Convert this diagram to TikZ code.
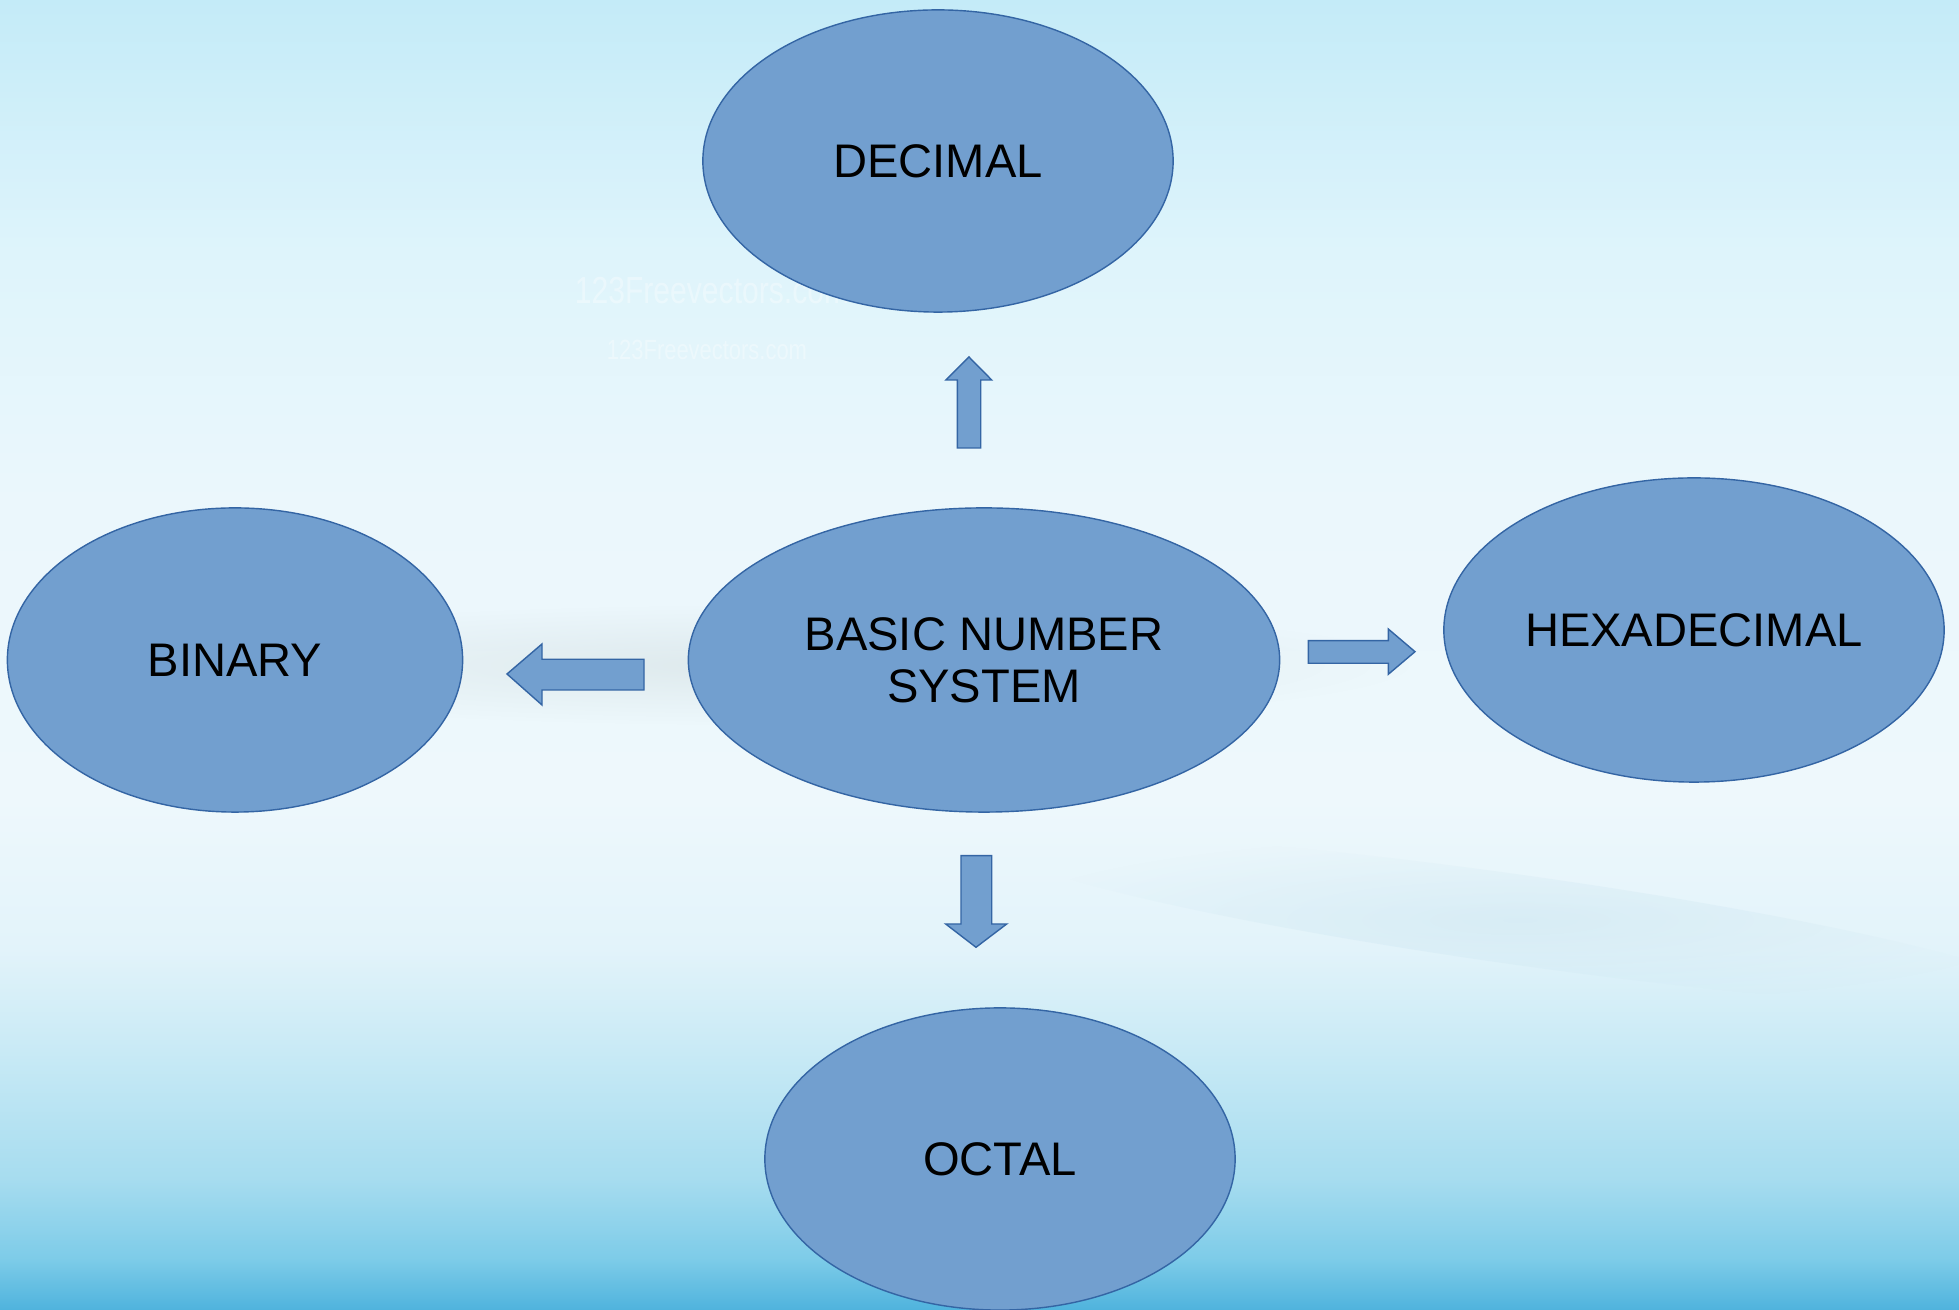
\documentclass[tikz,border=0pt]{standalone}
\usepackage{fontspec}
\setmainfont{Liberation Sans}
\usetikzlibrary{shapes.geometric,fadings}

\definecolor{nodefill}{HTML}{729FCF}
\definecolor{nodeline}{HTML}{3465A4}
\definecolor{bgA}{HTML}{C4EBF8}
\definecolor{bgB}{HTML}{DEF4FB}
\definecolor{bgC}{HTML}{EBF7FC}
\definecolor{bgD}{HTML}{EEF8FC}
\definecolor{bgE}{HTML}{E2F3FA}
\definecolor{bgF}{HTML}{C6E9F5}
\definecolor{bgG}{HTML}{A6DCEF}
\definecolor{bgH}{HTML}{7CCBE8}
\definecolor{bgI}{HTML}{4FB3DD}
\definecolor{haze}{HTML}{CCD8DA}
\definecolor{streak}{HTML}{BBDCEA}

\tikzfading[name=softedge, inner color=transparent!0, outer color=transparent!100]

\begin{document}
\begin{tikzpicture}[x=0.01cm,y=-0.01cm,
  bubble/.style={ellipse, draw=nodeline, fill=nodefill, line width=0.4pt,
    inner sep=0pt, align=center, text=black,
    font=\fontsize{13.4}{14.9}\selectfont},
  blockarrow/.style={draw=nodeline, fill=nodefill, line width=0.4pt, line join=miter},
  watermark/.style={text=white, text opacity=0.35, inner sep=0pt}]

  % canvas and sky background
  \useasboundingbox (0,0) rectangle (1959,1310);
  \shade[top color=bgA, bottom color=bgB] (0,0) rectangle (1959,251);
  \shade[top color=bgB, bottom color=bgC] (0,250) rectangle (1959,501);
  \shade[top color=bgC, bottom color=bgD] (0,500) rectangle (1959,801);
  \shade[top color=bgD, bottom color=bgE] (0,800) rectangle (1959,951);
  \shade[top color=bgE, bottom color=bgF] (0,950) rectangle (1959,1061);
  \shade[top color=bgF, bottom color=bgG] (0,1060) rectangle (1959,1181);
  \shade[top color=bgG, bottom color=bgH] (0,1180) rectangle (1959,1261);
  \shade[top color=bgH, bottom color=bgI] (0,1260) rectangle (1959,1310);

  % soft horizon haze and light streak
  \fill[haze, path fading=softedge, opacity=0.45] (760,665) ellipse (650 and 60);
  \fill[streak, path fading=softedge, opacity=0.3, rotate around={-8:(1520,920)}] (1520,920) ellipse (520 and 45);

  % stock watermark
  \node[watermark, font=\fontsize{10.7}{11}\selectfont] (wmA) at (712,291) {\scalebox{0.8}[1]{123Freevectors.com}};
  \node[watermark, font=\fontsize{7.9}{8}\selectfont] (wmB) at (707,350) {\scalebox{0.79}[1]{123Freevectors.com}};

  % number systems
  \node[bubble, minimum width=4.70cm, minimum height=3.02cm] (decimal) at (938,161) {DECIMAL};
  \node[bubble, minimum width=5.91cm, minimum height=3.04cm] (basic) at (984,660) {BASIC NUMBER\\SYSTEM};
  \node[bubble, minimum width=4.55cm, minimum height=3.04cm] (binary) at (235,660) {BINARY};
  \node[bubble, minimum width=5.00cm, minimum height=3.04cm] (hexa) at (1694,630) {HEXADECIMAL};
  \node[bubble, minimum width=4.70cm, minimum height=3.02cm] (octal) at (1000,1159) {OCTAL};

  % block arrows pointing outward from the centre
  \draw[blockarrow] (969,357) -- (991.7,380) -- (980.7,380) -- (980.7,448) -- (957.3,448) -- (957.3,380) -- (946,380) -- cycle;
  \draw[blockarrow] (507,674) -- (542,644) -- (542,659.3) -- (644,659.3) -- (644,690) -- (542,690) -- (542,705) -- cycle;
  \draw[blockarrow] (1415,651.7) -- (1388.3,629) -- (1388.3,640.7) -- (1308.3,640.7) -- (1308.3,663.3) -- (1388.3,663.3) -- (1388.3,674.3) -- cycle;
  \draw[blockarrow] (976,947.3) -- (1006.7,924) -- (991.7,924) -- (991.7,855.7) -- (961,855.7) -- (961,924) -- (945.7,924) -- cycle;
\end{tikzpicture}
\end{document}
